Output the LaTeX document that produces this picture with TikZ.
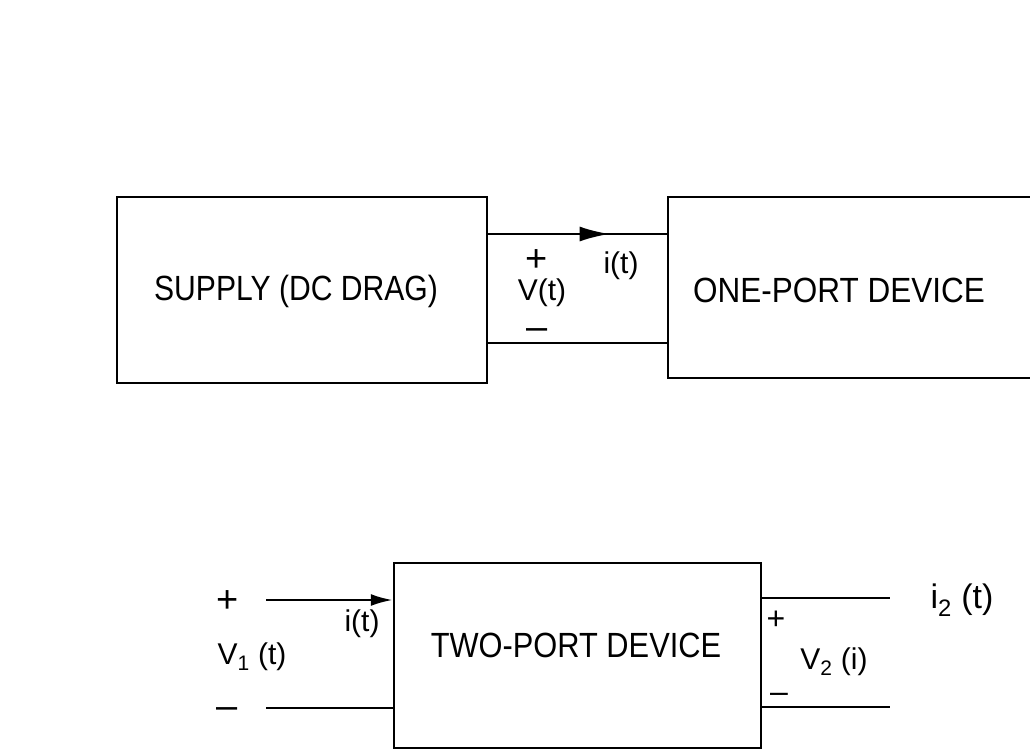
\documentclass[tikz,border=0pt]{standalone}
\usepackage{fontspec}
\setmainfont{Liberation Sans}
\usetikzlibrary{arrows.meta, positioning, decorations.markings}

\begin{document}
\begin{tikzpicture}[
    x=1pt, y=-1pt,
    box/.style={draw=black, line width=2.5pt, inner sep=0pt},
    boxtext/.style={inner sep=0pt, font=\fontsize{35}{40}\selectfont},
    lbl/.style={inner sep=1pt, font=\fontsize{30}{34}\selectfont},
    sign/.style={inner sep=0pt, text height=24pt, text depth=0pt, font=\fontsize{38}{40}\selectfont},
    wire/.style={line width=2.5pt},
    midarrow/.style={postaction={decorate}, decoration={markings,
        mark=at position #1 with {\arrow{Latex[length=30pt,width=15pt]}}}}
  ]
    \useasboundingbox (0,0) rectangle (1030,752);

    % one-port: supply feeding the device
    \node[box, minimum width=370pt, minimum height=186pt] (supply) at (302,290) {};
    \node[boxtext] (supplytext) at (296,291) {\scalebox{0.86}[1]{SUPPLY (DC DRAG)}};
    \node[box, minimum width=372pt, minimum height=181pt] (oneport) at (854,287.5) {};
    \node[boxtext] (onetext) at (839,290) {\scalebox{0.9}[1]{ONE-PORT DEVICE}};

    \coordinate (topwire) at (577,234);
    \coordinate (botwire) at (577,343);
    \draw[wire, midarrow=0.68] (supply.east |- topwire) -- (oneport.west |- topwire);
    \draw[wire] (supply.east |- botwire) -- (oneport.west |- botwire);

    \node[sign] (plusa) at (537,259) {+};
    \node[lbl] (vt) at (542,293) {V(t)};
    \node[sign] (minusa) at (537,327) {–};
    \node[lbl] (ita) at (621,266) {i(t)};

    % two-port device
    \node[box, minimum width=367pt, minimum height=185pt] (twoport) at (577.5,655.5) {};
    \node[boxtext] (twotext) at (576,645) {\scalebox{0.88}[1]{TWO-PORT DEVICE}};

    \coordinate (inplus) at (266,600);
    \coordinate (inminus) at (266,708);
    \coordinate (outplus) at (890,598);
    \coordinate (outminus) at (890,707);
    \draw[wire, -{Latex[length=22pt,width=12pt]}] (inplus) -- (twoport.west |- inplus);
    \draw[wire] (inminus) -- (twoport.west |- inminus);
    \draw[wire] (twoport.east |- outplus) -- (outplus);
    \draw[wire] (twoport.east |- outminus) -- (outminus);

    \node[sign] (plusb) at (228,600) {+};
    \node[lbl] (vone) at (252,657) {V\textsubscript{1} (t)};
    \node[sign] (minusb) at (227,706) {–};
    \node[lbl] (itb) at (362,624) {i(t)};

    \node[sign, font=\fontsize{32}{36}\selectfont] (plusc) at (776,617) {+};
    \node[lbl] (vtwo) at (834,662) {V\textsubscript{2} (i)};
    \node[sign, font=\fontsize{32}{36}\selectfont] (minusc) at (779,690) {–};
    \node[lbl, font=\fontsize{34}{38}\selectfont] (itwo) at (962,600) {i\textsubscript{2} (t)};
  \end{tikzpicture}
\end{document}
